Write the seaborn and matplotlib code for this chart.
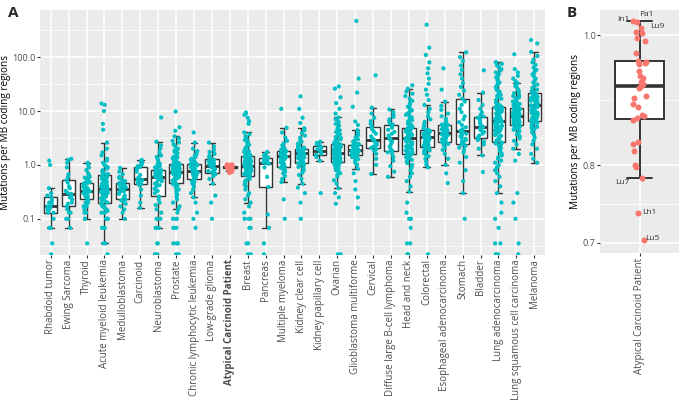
import numpy as np
import pandas as pd
import matplotlib
matplotlib.use('Agg')
import matplotlib.pyplot as plt
import seaborn as sns

sns.set_style('ticks')
plt.rcParams['font.family'] = ['Open Sans', 'DejaVu Sans']

# categories, ordered by median mutation rate
tumour_types = ['Rhabdoid tumor', 'Ewing Sarcoma', 'Thyroid', 'Acute myeloid leukemia',
                'Medulloblastoma', 'Carcinoid', 'Neuroblastoma', 'Prostate',
                'Chronic lymphocytic leukemia', 'Low-grade glioma', 'Atypical Carcinoid Patient',
                'Breast', 'Pancreas', 'Multiple myeloma', 'Kidney clear cell',
                'Kidney papillary cell', 'Ovarian', 'Glioblastoma multiforme', 'Cervical',
                'Diffuse large B-cell lymphoma', 'Head and neck', 'Colorectal',
                'Esophageal adenocarcinoma', 'Stomach', 'Bladder', 'Lung adenocarcinoma',
                'Lung squamous cell carcinoma', 'Melanoma']
patient_type = 'Atypical Carcinoid Patient'

# mutations per MB
rhabdoid = [0.022, 0.035, 0.068, 0.068, 0.1, 0.13, 0.13, 0.14, 0.15, 0.16, 0.17, 0.17, 0.19, 0.2,
            0.22, 0.25, 0.27, 0.3, 0.37, 1.0, 1.2]
ewing = [0.068, 0.1, 0.1, 0.13, 0.13, 0.15, 0.17, 0.19, 0.2, 0.23, 0.25, 0.27, 0.29, 0.3, 0.33,
         0.37, 0.4, 0.47, 0.52, 0.6, 0.67, 0.9, 1.1, 1.24, 1.3]
thyroid = [0.035, 0.1, 0.1, 0.13, 0.13, 0.15, 0.17, 0.17, 0.19, 0.2, 0.2, 0.22, 0.23,
           0.23, 0.25, 0.26, 0.27, 0.28, 0.29, 0.3, 0.3, 0.31, 0.32, 0.33, 0.33,
           0.34, 0.35, 0.36, 0.37, 0.38, 0.4, 0.4, 0.42, 0.43, 0.44, 0.45, 0.46,
           0.48, 0.5, 0.52, 0.55, 0.58, 0.6, 0.65, 0.7, 0.8, 0.9, 1.0, 1.1]
aml = [0.022, 0.035, 0.035, 0.068, 0.068, 0.068, 0.1, 0.1, 0.1, 0.1, 0.13, 0.13, 0.13, 0.14,
       0.15, 0.16, 0.17, 0.17, 0.18, 0.19, 0.2,
       0.21, 0.22, 0.23, 0.24, 0.25, 0.26, 0.27, 0.27, 0.28, 0.29, 0.3, 0.3, 0.31, 0.32, 0.32,
       0.33, 0.33, 0.34, 0.34, 0.35,
       0.36, 0.37, 0.38, 0.4, 0.41, 0.42, 0.44, 0.45, 0.47, 0.48, 0.5, 0.52, 0.53, 0.55, 0.57,
       0.58, 0.6, 0.62, 0.63, 0.65,
       0.68, 0.7, 0.75, 0.8, 0.85, 0.9, 0.95, 1.0, 1.1, 1.2, 1.3, 1.5, 1.7, 2.0, 2.6, 4.5, 5.8,
       10.0, 13.0, 13.8]
medullo = [0.1, 0.13, 0.15, 0.17, 0.19, 0.2, 0.22, 0.23, 0.25, 0.27, 0.29, 0.3, 0.32, 0.33,
           0.35, 0.36, 0.38, 0.4, 0.42, 0.43, 0.45, 0.46, 0.5, 0.53, 0.57, 0.6, 0.67, 0.75, 0.88]
carcinoid = [0.16, 0.2, 0.27, 0.35, 0.42, 0.44, 0.46, 0.5, 0.52, 0.54, 0.55, 0.58, 0.65, 0.75,
             0.85, 0.92, 0.95, 1.0, 1.1, 1.15, 1.24]
neuroblastoma = [0.022, 0.022, 0.035, 0.035, 0.068, 0.068, 0.068, 0.1, 0.1, 0.1, 0.13, 0.15,
                 0.18, 0.2, 0.23, 0.26,
                 0.3, 0.33, 0.36, 0.4, 0.42, 0.45, 0.47, 0.5, 0.52, 0.53, 0.55, 0.56, 0.57, 0.58,
                 0.6,
                 0.61, 0.62, 0.63, 0.65, 0.66, 0.68, 0.7, 0.71, 0.72, 0.74, 0.75, 0.76, 0.78,
                 0.79, 0.8,
                 0.85, 0.9, 0.95, 1.0, 1.05, 1.1, 1.2, 1.3, 1.4, 1.5, 1.7, 2.0, 2.3, 2.7, 7.6]
prostate = [0.022, 0.022, 0.035, 0.035, 0.035, 0.068, 0.068, 0.068, 0.1, 0.1, 0.1, 0.13, 0.15,
            0.17, 0.2, 0.23, 0.26, 0.28, 0.3, 0.33, 0.35, 0.38, 0.4, 0.42, 0.44, 0.46,
            0.48, 0.5, 0.51, 0.52, 0.54, 0.55, 0.56, 0.58, 0.59, 0.6, 0.61, 0.62, 0.63, 0.64,
            0.65, 0.66, 0.67, 0.68, 0.69, 0.7, 0.71, 0.72, 0.73, 0.74, 0.75,
            0.76, 0.77, 0.78, 0.79, 0.8, 0.81, 0.82, 0.83, 0.84, 0.85, 0.86, 0.87, 0.88, 0.89,
            0.9, 0.91, 0.92, 0.93, 0.95, 0.96, 0.97, 0.99, 1.0, 1.02, 1.04,
            1.07, 1.1, 1.13, 1.16, 1.2, 1.24, 1.28, 1.32, 1.37, 1.42, 1.5, 1.58, 1.67, 1.75,
            1.85, 2.0, 2.2, 2.4, 2.6, 2.8, 3.1, 3.4, 4.3, 5.0, 9.8]
cll = [0.068, 0.1, 0.13, 0.2, 0.25, 0.3, 0.35, 0.4, 0.45, 0.48, 0.5, 0.53, 0.55,
       0.57, 0.59, 0.61, 0.63, 0.65, 0.67, 0.69, 0.7, 0.72, 0.74, 0.75, 0.77,
       0.79, 0.81, 0.83, 0.85, 0.87, 0.89, 0.91, 0.93, 0.96, 0.98, 1.01, 1.04,
       1.08, 1.12, 1.18, 1.25, 1.3, 1.4, 1.5, 1.6, 1.8, 2.0, 2.6, 4.0]
lgg = [0.1, 0.2, 0.27, 0.45, 0.55, 0.62, 0.67, 0.7, 0.73, 0.77, 0.8, 0.84, 0.88, 0.91, 0.94,
       0.98, 1.02, 1.07, 1.12, 1.18, 1.24, 1.3, 1.4, 1.5, 1.6, 1.75, 1.9, 2.2, 2.6]
patient = [0.704, 0.737, 0.782, 0.798, 0.800, 0.819, 0.829, 0.832, 0.865, 0.868, 0.870, 0.872,
           0.884, 0.888, 0.897, 0.900, 0.913, 0.916, 0.920, 0.922, 0.929, 0.932, 0.940, 0.952,
           0.954, 0.955, 0.957, 0.970, 0.990, 0.995, 1.004, 1.006, 1.012, 1.022, 1.024]
breast = [0.022, 0.022, 0.035, 0.035, 0.068, 0.068, 0.1, 0.1, 0.1, 0.13, 0.17, 0.2, 0.23, 0.27,
          0.3, 0.35, 0.4, 0.43, 0.46, 0.49, 0.52, 0.55, 0.57, 0.59, 0.61, 0.63,
          0.65, 0.66, 0.68, 0.69, 0.71, 0.72, 0.74, 0.75, 0.76, 0.77, 0.78, 0.79, 0.8, 0.82,
          0.83, 0.84, 0.85, 0.86, 0.87, 0.88, 0.89, 0.9, 0.91, 0.92, 0.94,
          0.96, 0.98, 1.0, 1.02, 1.04, 1.06, 1.08, 1.1, 1.12, 1.14, 1.16, 1.18, 1.2, 1.22,
          1.24, 1.26, 1.28, 1.3, 1.32, 1.35, 1.38, 1.4, 1.42, 1.45, 1.47,
          1.5, 1.55, 1.6, 1.65, 1.7, 1.75, 1.8, 1.9, 2.0, 2.1, 2.2, 2.35, 2.5, 2.7, 2.9, 3.1,
          3.4, 3.7, 4.0, 5.8, 6.5, 7.5, 8.5, 9.0, 9.4]
pancreas = [0.022, 0.035, 0.068, 0.12, 0.39, 0.6, 0.9, 1.05, 1.09, 1.12, 1.2, 1.28, 1.35,
            1.4, 1.5, 1.6, 1.75]
myeloma = [0.1, 0.23, 0.48, 0.55, 0.62, 0.7, 0.75, 0.8, 0.85, 0.89, 0.92,
           0.98, 1.05, 1.1, 1.17, 1.22, 1.28, 1.33, 1.37, 1.41, 1.45,
           1.48, 1.52, 1.56, 1.6, 1.64, 1.68, 1.72, 1.76, 1.8, 1.83,
           1.9, 2.0, 2.1, 2.3, 2.5, 2.8, 3.2, 4.0, 4.9, 11.0]
kidney_clear = [0.1, 0.2, 0.3, 0.38, 0.45, 0.55, 0.65, 0.72, 0.8, 0.86, 0.92, 0.97, 1.01, 1.04,
                1.07, 1.1,
                1.14, 1.18, 1.22, 1.26, 1.3, 1.34, 1.38, 1.42, 1.46, 1.5, 1.54, 1.57, 1.6, 1.62,
                1.65,
                1.67, 1.69, 1.71, 1.73, 1.75, 1.77, 1.79, 1.81, 1.83, 1.86, 1.89, 1.92, 1.95,
                1.97, 2.0,
                2.1, 2.2, 2.35, 2.5, 2.7, 2.9, 3.2, 3.5, 3.9, 4.4, 4.8, 6.0, 7.5, 11.0, 18.7]
kidney_papillary = [0.3, 1.2, 1.4, 1.54, 1.62, 1.72, 1.83, 1.95, 2.1, 2.26, 2.4, 2.55, 2.7]
ovarian = [0.022, 0.022, 0.19, 0.25, 0.3, 0.37, 0.45, 0.52, 0.6, 0.65, 0.7, 0.75, 0.8, 0.84,
           0.88, 0.91, 0.94, 0.97, 1.0, 1.02, 1.04, 1.06, 1.08, 1.1, 1.12, 1.14,
           1.16, 1.18, 1.2, 1.22, 1.24, 1.26, 1.28, 1.3, 1.32, 1.34, 1.36, 1.38, 1.4, 1.43,
           1.46, 1.49, 1.52, 1.55, 1.57, 1.59, 1.61, 1.63, 1.65, 1.67, 1.7,
           1.73, 1.76, 1.79, 1.82, 1.85, 1.88, 1.91, 1.94, 1.97, 2.0, 2.03, 2.06, 2.1, 2.14,
           2.18, 2.22, 2.26, 2.3, 2.34, 2.37, 2.4, 2.42, 2.44, 2.45, 2.47,
           2.55, 2.65, 2.75, 2.85, 3.0, 3.15, 3.3, 3.5, 3.7, 3.9, 4.1, 4.4, 4.7, 5.0, 5.4, 5.8,
           6.3, 7.0, 7.6, 9.0, 11.0, 14.0, 18.0, 26.0, 28.6]
glioblastoma = [0.16, 0.25, 0.35, 0.5, 0.7, 0.85, 1.0, 1.1, 1.2, 1.28, 1.35, 1.4, 1.45, 1.48,
                1.51, 1.54,
                1.57, 1.6, 1.63, 1.66, 1.69, 1.72, 1.74, 1.76, 1.78, 1.8, 1.82, 1.84, 1.86,
                1.88, 1.9,
                1.92, 1.95, 1.98, 2.01, 2.04, 2.07, 2.1, 2.13, 2.16, 2.19, 2.22, 2.26, 2.3,
                2.33, 2.37,
                2.45, 2.55, 2.7, 2.85, 3.0, 3.3, 3.6, 4.0, 4.4, 5.5, 6.4, 12.0, 22.0, 40.0, 470.0]
cervical = [0.68, 1.0, 1.3, 1.6, 1.8, 1.95, 2.08, 2.2, 2.35, 2.5, 2.65, 2.8, 2.93, 3.1, 3.4,
            3.8, 4.2, 4.6, 5.1, 5.8, 6.5, 7.5, 9.0, 11.6, 46.0]
dlbcl = [0.6, 0.75, 0.95, 1.2, 1.4, 1.6, 1.72, 1.83, 2.0, 2.2, 2.45, 2.7, 2.9, 3.05, 3.2,
         3.5, 3.8, 4.1, 4.5, 4.9, 5.3, 5.6, 6.0, 6.5, 7.0, 7.8, 8.5, 9.5, 10.7]
head_neck = [0.022, 0.022, 0.035, 0.035, 0.068, 0.1, 0.1, 0.13, 0.2, 0.32, 0.4, 0.5, 0.6, 0.7,
             0.8, 0.9, 1.0, 1.08, 1.16, 1.24, 1.3, 1.38, 1.45, 1.5, 1.55, 1.6,
             1.66, 1.72, 1.78, 1.84, 1.9, 1.96, 2.02, 2.08, 2.14, 2.2, 2.26, 2.32, 2.38, 2.44,
             2.5, 2.56, 2.62, 2.68, 2.74, 2.8, 2.88, 2.96, 3.04, 3.12, 3.2,
             3.26, 3.32, 3.38, 3.44, 3.5, 3.56, 3.62, 3.68, 3.74, 3.8, 3.87, 3.94, 4.0, 4.07,
             4.14, 4.21, 4.28, 4.35, 4.42, 4.5, 4.58, 4.66, 4.74, 4.82, 4.9,
             5.1, 5.3, 5.5, 5.8, 6.1, 6.4, 6.8, 7.2, 7.6, 8.0, 8.5, 9.0, 9.6, 10.3, 11.0, 12.0,
             13.0, 14.0, 15.5, 17.0, 19.0, 21.0, 23.0, 26.0, 30.0]
colorectal = [0.022, 0.9, 1.0, 1.15, 1.3, 1.45, 1.55, 1.65, 1.72, 1.8, 1.86, 1.92, 1.97, 2.0,
              2.03, 2.06, 2.09, 2.11, 2.13, 2.15, 2.17,
              2.22, 2.28, 2.34, 2.4, 2.46, 2.52, 2.58, 2.64, 2.7, 2.76, 2.82, 2.88, 2.94, 3.0,
              3.06, 3.12, 3.17, 3.22, 3.26, 3.3,
              3.35, 3.4, 3.45, 3.5, 3.56, 3.62, 3.68, 3.74, 3.8, 3.86, 3.92, 3.98, 4.04, 4.1,
              4.16, 4.22, 4.28, 4.36, 4.43, 4.5,
              4.8, 5.2, 5.7, 6.3, 7.0, 8.0, 9.5, 11.0, 13.0, 16.0, 20.0, 25.0, 32.0, 40.0, 50.0,
              62.0, 80.0, 110.0, 150.0, 400.0]
esophageal = [0.46, 0.7, 1.0, 1.3, 1.6, 1.9, 2.1, 2.3, 2.45, 2.6, 2.7,
              2.85, 3.0, 3.15, 3.3, 3.45, 3.6, 3.7, 3.8, 3.9, 3.96,
              4.1, 4.25, 4.4, 4.6, 4.8, 5.0, 5.2, 5.35, 5.5, 5.6,
              6.0, 6.5, 7.2, 8.0, 9.0, 10.5, 12.5, 15.0, 25.0, 62.0]
stomach = [0.1, 0.3, 0.5, 0.8, 1.1, 1.4, 1.7, 1.9, 2.1, 2.25, 2.38, 2.47,
           2.6, 2.75, 2.9, 3.05, 3.2, 3.4, 3.6, 3.8, 4.0, 4.15, 4.3,
           4.6, 5.0, 5.5, 6.2, 7.0, 8.0, 9.5, 11.0, 13.0, 15.0, 17.0,
           20.0, 24.0, 28.0, 33.0, 40.0, 48.0, 58.0, 70.0, 85.0, 100.0, 123.0]
bladder = [0.74, 1.5, 2.0, 2.4, 2.7, 2.9, 3.05, 3.2, 3.5, 3.8, 4.1, 4.4, 4.7, 4.9, 5.1,
           5.4, 5.8, 6.2, 6.7, 7.1, 7.5, 7.9, 8.5, 9.5, 11.0, 13.0, 16.0, 22.0, 57.0]
lung_adeno = [0.022, 0.022, 0.035, 0.035, 0.068, 0.1, 0.13, 0.2, 0.3, 0.4, 0.5, 0.6, 0.7, 0.8,
              0.9, 1.0, 1.1, 1.2, 1.3, 1.4, 1.5, 1.65, 1.8, 1.95, 2.05, 2.15, 2.3, 2.4, 2.5,
              2.6, 2.7,
              2.85, 3.0, 3.15, 3.3, 3.45, 3.6, 3.75, 3.9, 4.0, 4.1, 4.2, 4.3, 4.4, 4.5, 4.6,
              4.7, 4.8, 4.9, 5.0, 5.1, 5.2, 5.35, 5.5, 5.65, 5.8, 5.95, 6.1, 6.2, 6.3, 6.4,
              6.6, 6.8, 7.0, 7.2, 7.4, 7.6, 7.8, 8.0, 8.2, 8.4, 8.6, 8.8, 9.0, 9.2, 9.4, 9.6,
              9.8, 10.0, 10.2, 10.4, 10.6, 10.8, 11.0, 11.2, 11.4, 11.6, 11.8, 11.9, 12.0, 12.1,
              12.8, 13.5, 14.3, 15.0, 16.0, 17.0, 18.0, 19.0, 20.0, 21.5, 23.0, 24.5, 26.0,
              28.0, 30.0, 32.0, 34.0, 36.0, 39.0, 42.0, 45.0, 48.0, 52.0, 56.0, 60.0, 65.0,
              70.0, 75.0, 80.0, 80.0]
lung_squamous = [0.022, 0.035, 0.1, 0.2, 0.3, 1.2, 1.6, 2.0, 2.4, 2.8, 3.1, 3.4, 3.7, 3.9, 4.1,
                 4.3, 4.5, 4.7, 4.85, 5.0, 5.1, 5.2, 5.3, 5.4, 5.5, 5.6,
                 5.75, 5.9, 6.05, 6.2, 6.35, 6.5, 6.6, 6.7, 6.8, 6.9, 7.0, 7.1, 7.2, 7.3, 7.4,
                 7.5, 7.6, 7.7, 7.8, 7.85, 7.9, 8.0, 8.05, 8.1, 8.2,
                 8.3, 8.4, 8.5, 8.6, 8.7, 8.85, 9.0, 9.15, 9.3, 9.45, 9.6, 9.75, 9.9, 10.05,
                 10.2, 10.35, 10.5, 10.65, 10.8, 10.95, 11.1, 11.25, 11.4, 11.5, 11.6,
                 12.0, 12.5, 13.0, 13.5, 14.0, 14.5, 15.0, 16.0, 17.0, 18.0, 19.0, 20.0, 21.5,
                 23.0, 25.0, 27.0, 29.0, 31.0, 33.0, 36.0, 40.0, 45.0, 52.0, 60.0, 113.0]
melanoma = [1.1, 1.3, 1.6, 2.0, 2.4, 2.8, 3.2, 3.6, 4.0, 4.3, 4.6, 4.9, 5.1, 5.3, 5.5, 5.7,
            5.9, 6.05, 6.2, 6.3, 6.4,
            6.7, 7.0, 7.3, 7.6, 7.9, 8.2, 8.5, 8.8, 9.1, 9.4, 9.7, 10.0, 10.4, 10.8, 11.2,
            11.6, 12.0, 12.4, 12.8, 13.2,
            13.6, 14.0, 14.4, 14.8, 15.2, 15.6, 16.0, 16.4, 16.8, 17.2, 17.6, 18.0, 18.5, 19.0,
            19.5, 20.0, 20.5, 21.0, 21.5, 22.0,
            23.5, 25.0, 27.0, 29.0, 31.0, 34.0, 37.0, 40.0, 44.0, 48.0, 53.0, 58.0, 64.0, 72.0,
            80.0, 90.0, 105.0, 125.0, 180.0, 208.0]

# labelled patient regions (panel B)
region_names = ['In1', 'Pa1', 'Lu9', 'Lu7', 'Lh1', 'Lu5']
region_values = [1.022, 1.024, 1.012, 0.782, 0.737, 0.704]

series = [rhabdoid, ewing, thyroid, aml, medullo, carcinoid, neuroblastoma, prostate, cll, lgg,
          patient, breast, pancreas, myeloma, kidney_clear, kidney_papillary, ovarian,
          glioblastoma, cervical, dlbcl, head_neck, colorectal, esophageal, stomach, bladder,
          lung_adeno, lung_squamous, melanoma]

rows = []
for name, vals in zip(tumour_types, series):
    for v in vals:
        rows.append((name, v, 'patient' if name == patient_type else 'tcga'))
df = pd.DataFrame(rows, columns=['type', 'tmb', 'group'])
pat = df[df['type'] == patient_type]

teal = '#00BFC4'
salmon = '#F8766D'
box_line = '#333333'
palette = {'tcga': teal, 'patient': salmon}

np.random.seed(3)

fig = plt.figure(figsize=(6.8, 4.05), dpi=100)
axA = fig.add_axes([40 / 680, 1 - 255 / 405, 505 / 680, 245 / 405])
axB = fig.add_axes([600 / 680, 1 - 253 / 405, 79 / 680, 243 / 405])


def style_axis(ax):
    ax.set_facecolor('#EBEBEB')
    for s in ax.spines.values():
        s.set_visible(False)
    ax.set_axisbelow(True)
    ax.grid(which='major', color='white', linewidth=1.1)
    ax.grid(which='minor', axis='y', color='white', linewidth=0.5)
    ax.tick_params(which='major', length=2, width=0.8, color=box_line,
                   labelcolor='#4D4D4D', labelsize=7, pad=1.2)
    ax.tick_params(axis='y', which='major', labelsize=6.5)
    ax.tick_params(which='minor', length=0)


# Panel A
axA.set_yscale('log')
sns.boxplot(data=df, x='type', y='tmb', order=tumour_types, ax=axA, color='white',
            linecolor=box_line, linewidth=1.0, width=0.75, showfliers=False, whis=1.5,
            medianprops={'linewidth': 2.0})
sns.stripplot(data=df, x='type', y='tmb', order=tumour_types, hue='group', palette=palette,
              jitter=0.2, size=3, linewidth=0, legend=False, ax=axA, zorder=3)
axA.set_xlim(-0.6, len(tumour_types) - 0.4)
axA.set_ylim(0.0213, 750)
axA.set_yticks([0.1, 1, 10, 100])
axA.set_yticklabels(['0.1', '1.0', '10.0', '100.0'])
axA.set_yticks([10 ** -1.5, 10 ** -0.5, 10 ** 0.5, 10 ** 1.5, 10 ** 2.5], minor=True)
axA.yaxis.set_minor_formatter(plt.NullFormatter())
style_axis(axA)
axA.set_xticks(range(len(tumour_types)))
axA.set_xticklabels(tumour_types, rotation=90, ha='center', va='top')
axA.get_xticklabels()[tumour_types.index(patient_type)].set_fontweight('bold')
axA.set_xlabel('')
axA.set_ylabel('Mutations per MB coding regions', fontsize=7.2, color='black')
axA.yaxis.set_label_coords(-0.058, 0.5)

# Panel B
axB.set_yscale('log')
sns.boxplot(data=pat, x='type', y='tmb', ax=axB, color='white', linecolor=box_line,
            linewidth=1.4, width=0.75, showfliers=False, whis=1.5,
            medianprops={'linewidth': 2.6})
sns.stripplot(data=pat, x='type', y='tmb', color=salmon, jitter=0.1, size=4.3, linewidth=0,
              ax=axB, zorder=3)
axB.set_xlim(-0.6, 0.6)
axB.set_ylim(0.688, 1.044)
axB.set_yticks([0.7, 0.8, 1.0])
axB.set_yticklabels(['0.7', '0.8', '1.0'])
axB.set_yticks([np.sqrt(0.7 * 0.8), np.sqrt(0.8 * 1.0)], minor=True)
axB.yaxis.set_minor_formatter(plt.NullFormatter())
style_axis(axB)
axB.set_xticks([0])
axB.set_xticklabels([patient_type], rotation=90, ha='center', va='top')
axB.set_xlabel('')
axB.set_ylabel('Mutations per MB coding regions', fontsize=7.2, color='black')
axB.yaxis.set_label_coords(-0.235, 0.5)

label_offsets = {'In1': (-7, 2, 'right'), 'Pa1': (5, 5, 'center'), 'Lu9': (8, 1, 'left'),
                 'Lu7': (-7, -3, 'right'), 'Lh1': (2, 0, 'left'), 'Lu5': (4, 1, 'left')}
for name, val in zip(region_names, region_values):
    dx, dy, ha = label_offsets[name]
    axB.annotate(name, xy=(0, val), xytext=(dx, dy), textcoords='offset points',
                 ha=ha, va='center', fontsize=6, color='#333333')

fig.text(8 / 680, 1 - 13 / 405, 'A', fontsize=11, fontweight='bold', va='center')
fig.text(567 / 680, 1 - 13 / 405, 'B', fontsize=11, fontweight='bold', va='center')

fig.savefig('out.png', dpi=100)
